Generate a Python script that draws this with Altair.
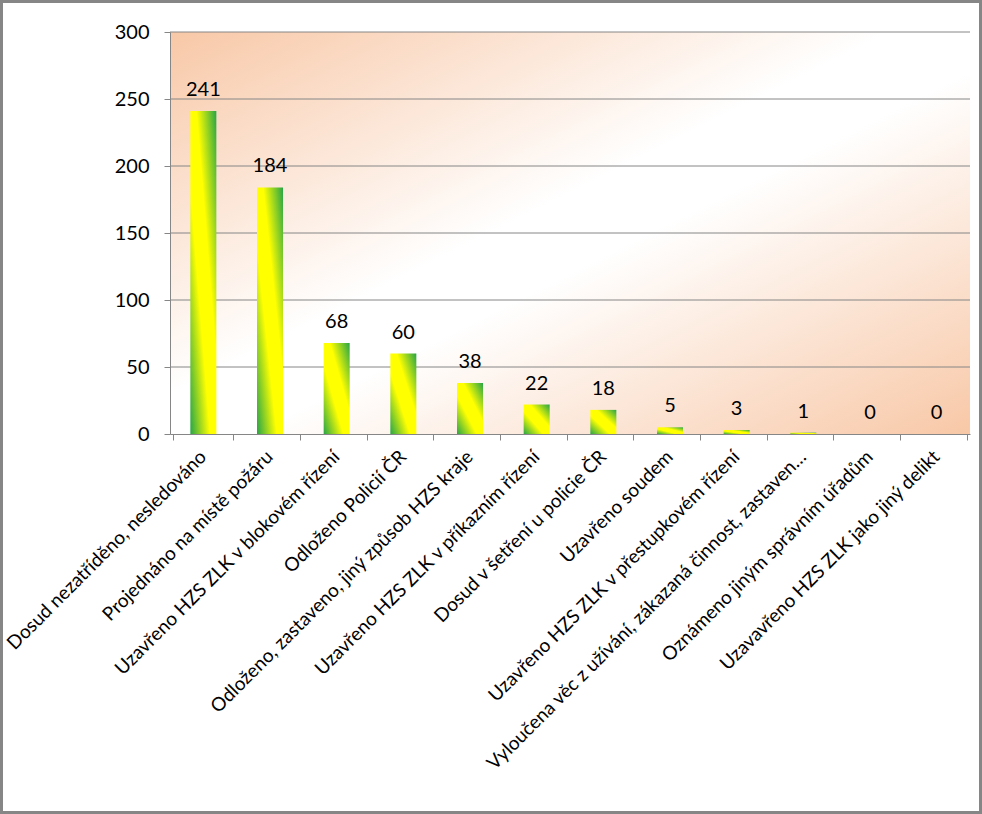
import altair as alt
import pandas as pd

categories = [
    "Dosud nezatříděno, nesledováno",
    "Projednáno na místě požáru",
    "Uzavřeno HZS ZLK v blokovém řízení",
    "Odloženo Policií ČR",
    "Odloženo, zastaveno, jiný způsob HZS kraje",
    "Uzavřeno HZS ZLK v příkazním řízení",
    "Dosud v šetření u policie ČR",
    "Uzavřeno soudem",
    "Uzavřeno HZS ZLK v přestupkovém řízení",
    "Vyloučena věc z užívání, zákazaná činnost, zastaven…",
    "Oznámeno jiným správním úřadům",
    "Uzavavřeno HZS ZLK jako jiný delikt",
]
values = [241, 184, 68, 60, 38, 22, 18, 5, 3, 1, 0, 0]
grid_values = [50, 100, 150, 200, 250, 300]
y_ticks = [0, 50, 100, 150, 200, 250, 300]

df = pd.DataFrame({"kategorie": categories, "pocet": values})
grid_df = pd.DataFrame({"pocet": grid_values})

W, H = 800, 402
FONT = "Lato"
FS = 20
FSX = 19
ORANGE = "#f8c8a7"
GREEN = "#27a546"
YELLOW = "#ffff00"
GRAY = "#868686"

yscale = alt.Scale(domain=[0, 300], nice=False, zero=True)
yaxis = alt.Axis(
    values=y_ticks,
    grid=False,
    labelFont=FONT,
    labelFontSize=FS,
    labelColor="#000000",
    labelPadding=15,
    tickSize=6,
    tickColor=GRAY,
    domainColor=GRAY,
    zindex=1,
)

bg = alt.Chart(alt.Data(values=[{"a": 1}])).mark_rect(
    fill=alt.Gradient(
        gradient="linear", x1=0, y1=0, x2=1, y2=1,
        stops=[
            alt.GradientStop(color=ORANGE, offset=0),
            alt.GradientStop(color="#ffffff", offset=0.45),
            alt.GradientStop(color="#ffffff", offset=0.55),
            alt.GradientStop(color=ORANGE, offset=1),
        ],
    )
).encode(x=alt.value(0), x2=alt.value(W), y=alt.value(0), y2=alt.value(H))

border = alt.Chart(alt.Data(values=[{"a": 1}])).mark_rect(
    fill="transparent", stroke=GRAY, strokeWidth=3
).encode(x=alt.value(-168.5), x2=alt.value(810.5), y=alt.value(-30.5), y2=alt.value(780.5))

grid = alt.Chart(grid_df).mark_rule(color=GRAY, strokeWidth=1).encode(
    y=alt.Y("pocet:Q", scale=yscale, axis=yaxis, title=None),
    x=alt.value(0),
    x2=alt.value(W),
)

base = alt.Chart(df).encode(
    x=alt.X(
        "kategorie:N",
        sort=categories,
        title=None,
        axis=alt.Axis(
            labelAngle=-45,
            labelFont=FONT,
            labelFontSize=FSX,
            labelColor="#000000",
            labelLimit=1000,
            labelOverlap=False,
            labelPadding=7,
            labelOffset=-7,
            tickBand="extent",
            tickSize=6,
            tickColor=GRAY,
            domainColor=GRAY,
            zindex=1,
        ),
    ),
    y=alt.Y("pocet:Q", scale=yscale, title=None, axis=yaxis),
)

bars = base.mark_bar(
    size=26,
    fill=alt.Gradient(
        gradient="linear", x1=0, y1=1, x2=1, y2=0,
        stops=[
            alt.GradientStop(color=GREEN, offset=0),
            alt.GradientStop(color=YELLOW, offset=0.38),
            alt.GradientStop(color=YELLOW, offset=0.62),
            alt.GradientStop(color=GREEN, offset=1),
        ],
    ),
)

labels = base.mark_text(
    font=FONT, fontSize=FS, color="#000000", baseline="alphabetic", dy=-15
).encode(text="pocet:Q")

chart = alt.layer(border, bg, grid, bars, labels).properties(
    width=W,
    height=H,
    autosize=alt.AutoSizeParams(type="none"),
    padding={"left": 170, "top": 32, "right": 12, "bottom": 380},
    background="#ffffff",
).configure_view(stroke=None)

chart.save("out.html", embed_options={"renderer": "svg", "actions": False})
